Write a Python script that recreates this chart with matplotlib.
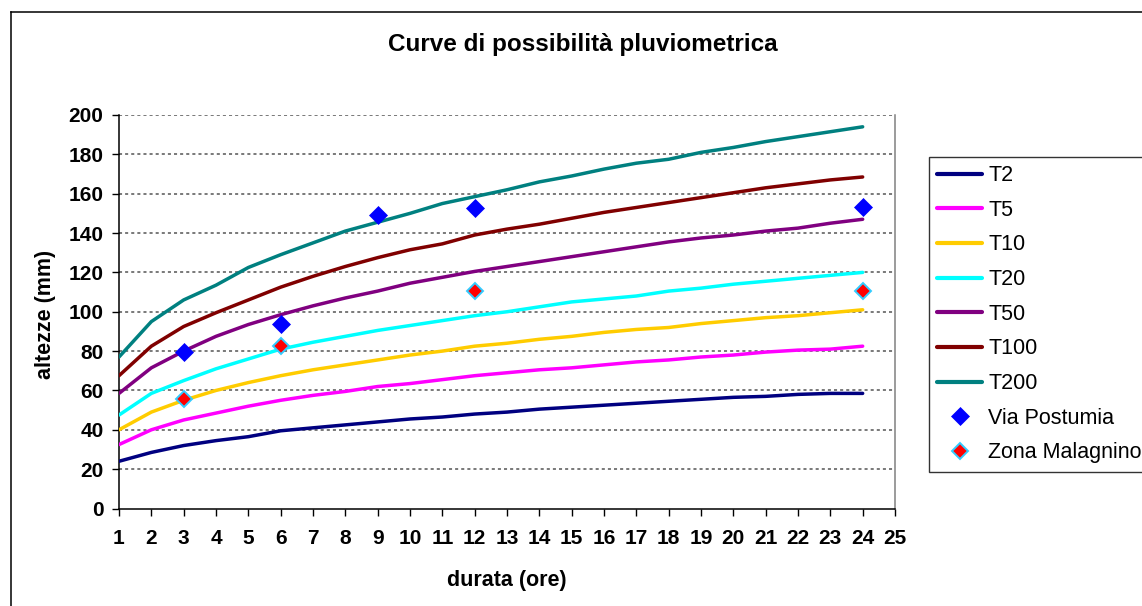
import matplotlib
matplotlib.use("Agg")
import matplotlib.pyplot as plt
from matplotlib.lines import Line2D

plt.rcParams['font.family'] = ['Liberation Sans', 'DejaVu Sans']

# Durations (hours) and rainfall depths (mm) for each return period
durata = list(range(1, 25))

T2 = [24, 28.5, 32, 34.5, 36.5, 39.5, 41, 42.5, 44, 45.5, 46.5, 48,
      49, 50.5, 51.5, 52.5, 53.5, 54.5, 55.5, 56.5, 57, 58, 58.5, 58.5]
T5 = [32.5, 40, 45, 48.5, 52, 55, 57.5, 59.5, 62, 63.5, 65.5, 67.5,
      69, 70.5, 71.5, 73, 74.5, 75.5, 77, 78, 79.5, 80.5, 81, 82.5]
T10 = [40, 49, 55, 60, 64, 67.5, 70.5, 73, 75.5, 78, 80, 82.5,
       84, 86, 87.5, 89.5, 91, 92, 94, 95.5, 97, 98, 99.5, 101]
T20 = [47.5, 58.5, 65, 71, 76, 81, 84.5, 87.5, 90.5, 93, 95.5, 98,
       100, 102.5, 105, 106.5, 108, 110.5, 112, 114, 115.5, 117, 118.5, 120]
T50 = [58.5, 71.5, 80, 87.5, 93.5, 98.5, 103, 107, 110.5, 114.5, 117.5, 120.5,
       123, 125.5, 128, 130.5, 133, 135.5, 137.5, 139, 141, 142.5, 145, 147]
T100 = [67.5, 82.5, 92.5, 99.5, 106, 112.5, 118, 123, 127.5, 131.5, 134.5, 139,
        142, 144.5, 147.5, 150.5, 153, 155.5, 158, 160.5, 163, 165, 167, 168.5]
T200 = [77, 95, 106, 113.5, 122.5, 129, 135, 141, 145.5, 150, 155, 158.5,
        162, 166, 169, 172.5, 175.5, 177.5, 181, 183.5, 186.5, 189, 191.5, 194]

series_names = ["T2", "T5", "T10", "T20", "T50", "T100", "T200"]
series_values = [T2, T5, T10, T20, T50, T100, T200]
series_colors = ["#000080", "#FF00FF", "#FFCC00", "#00FFFF",
                 "#800080", "#800000", "#008080"]

# Observed stations
postumia_x = [3, 6, 9, 12, 24]
postumia_y = [79.3, 93.7, 149, 152.5, 153]
malagnino_x = [3, 6, 12, 24]
malagnino_y = [55.6, 82.7, 110.5, 110.5]

x_ticks = list(range(1, 26))
y_ticks = list(range(0, 201, 20))

W, H = 1142, 606
fig = plt.figure(figsize=(W / 100, H / 100), dpi=100)
fig.patch.set_facecolor("white")

ax = fig.add_axes([119 / W, 1 - 508.5 / H, (895 - 119) / W, (508.5 - 115) / H])

for name, vals, col in zip(series_names, series_values, series_colors):
    ax.plot(durata, vals, color=col, lw=2.5, solid_capstyle='round',
            solid_joinstyle='round', label=name, zorder=3)

ax.plot(postumia_x, postumia_y, linestyle='none', marker='D', markersize=9,
        color='#0000FF', markeredgecolor='#0000FF', markeredgewidth=0.5,
        label='Via Postumia', zorder=4)
ax.plot(malagnino_x, malagnino_y, linestyle='none', marker='D', markersize=8,
        color='#FF0000', markeredgecolor='#33CCFF', markeredgewidth=1.4,
        label='Zona Malagnino', zorder=4)

ax.set_xlim(1, 25)
ax.set_ylim(0, 200)
ax.set_xticks(x_ticks)
ax.set_yticks(y_ticks)
ax.set_xticklabels([str(v) for v in x_ticks], fontsize=15, fontweight='bold')
ax.set_yticklabels([str(v) for v in y_ticks], fontsize=15, fontweight='bold')
ax.tick_params(axis='both', direction='out', length=4.7, width=1, color='black')
ax.tick_params(axis='x', pad=10)
ax.tick_params(axis='y', pad=6.5)

for yv in y_ticks[1:]:
    ax.axhline(yv, color='#555555', lw=1.1, linestyle=(0, (2, 2)), zorder=1)

ax.spines['top'].set_visible(False)
ax.spines['right'].set_color('#808080')
ax.spines['left'].set_color('black')
ax.spines['bottom'].set_color('black')
for s in ax.spines.values():
    s.set_linewidth(1.1)

ax.set_xlabel('durata (ore)', fontsize=15.5, fontweight='bold', va='top')
ax.xaxis.set_label_coords(0.5, -0.1565)
ax.set_ylabel('altezze (mm)', fontsize=15.5, fontweight='bold')
ax.yaxis.set_label_coords(-0.0812, 0.494)

fig.text(582.5 / W, 1 - 50.5 / H, 'Curve di possibilità pluviometrica',
         fontsize=17.5, fontweight='bold', ha='center', va='baseline')

leg = fig.legend(loc='upper left', bbox_to_anchor=(929 / W, 1 - 157 / H),
                 fontsize=15.5, frameon=True, fancybox=False, shadow=False,
                 handlelength=2.1, handletextpad=0.27, labelspacing=0.634,
                 borderpad=0.38, borderaxespad=0)
leg.get_frame().set_edgecolor('black')
leg.get_frame().set_linewidth(1.0)
for h in leg.get_lines():
    if h.get_linestyle() != 'None':
        h.set_linewidth(3)

# Outer chart border
fig.add_artist(Line2D([10.5 / W, 10.5 / W], [0, 1 - 12 / H], color='black', lw=1.1))
fig.add_artist(Line2D([10.5 / W, 1], [1 - 12 / H, 1 - 12 / H], color='black', lw=1.1))

fig.savefig('out.png', dpi=100)
